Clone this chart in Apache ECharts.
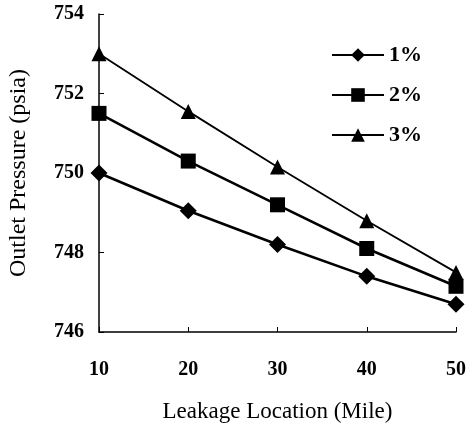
<!DOCTYPE html>
<html>
    <head>
        <title>Outlet pressure vs leakage location</title>
        <meta charset="UTF-8">
        <script src="https://cdn.jsdelivr.net/npm/echarts@6/dist/echarts.min.js"></script>
        <style>
            body { margin: 0; background-color: #fff; }
            #main { width: 470px; height: 436px; }
        </style>
    </head>
    <body>
        <div id="main"></div>
        <script>
            // values
            var locations = [10, 20, 30, 40, 50];
            var leak1 = [750.0, 749.05, 748.2, 747.4, 746.7];
            var leak2 = [751.5, 750.3, 749.2, 748.1, 747.15];
            var leak3 = [753.0, 751.55, 750.15, 748.8, 747.5];
            var names = ['1%', '2%', '3%'];

            function pairs(vals) {
                return locations.map(function (x, i) { return [x, vals[i]]; });
            }

            var font = '"Liberation Serif", "Times New Roman", serif';
            var chart = echarts.init(document.getElementById('main'));

            var option = {
                animation: false,
                textStyle: { fontFamily: font, color: '#000' },
                grid: { left: 99, right: 14, top: 14, bottom: 104, containLabel: false, outerBoundsMode: 'none' },
                legend: {
                    orient: 'vertical',
                    left: 326,
                    top: 39,
                    itemWidth: 52,
                    itemHeight: 17,
                    itemGap: 18,
                    data: names,
                    textStyle: { fontFamily: font, fontSize: 22, fontWeight: 'bold', color: '#000', padding: [8, 0, 0, 0] }
                },
                xAxis: {
                    type: 'value',
                    min: 10,
                    max: 50,
                    interval: 10,
                    name: 'Leakage Location (Mile)',
                    nameLocation: 'middle',
                    nameGap: 68,
                    nameTextStyle: { fontFamily: font, fontSize: 23, color: '#000' },
                    axisLine: { lineStyle: { color: '#000', width: 1.5 } },
                    axisTick: { inside: true, length: 5, lineStyle: { color: '#000' } },
                    axisLabel: { margin: 28, fontSize: 20, fontWeight: 'bold', color: '#000', fontFamily: font },
                    splitLine: { show: false }
                },
                yAxis: {
                    type: 'value',
                    min: 746,
                    max: 754,
                    interval: 2,
                    name: 'Outlet Pressure (psia)',
                    nameLocation: 'middle',
                    nameGap: 68,
                    nameTextStyle: { fontFamily: font, fontSize: 24, color: '#000' },
                    axisLine: { show: true, lineStyle: { color: '#000', width: 1.5 } },
                    axisTick: { show: true, inside: true, length: 5, lineStyle: { color: '#000' } },
                    axisLabel: { margin: 15, fontSize: 20, fontWeight: 'bold', color: '#000', fontFamily: font },
                    splitLine: { show: false }
                },
                series: [
                    {
                        name: names[0], type: 'line', data: pairs(leak1),
                        symbol: 'diamond', symbolSize: 17,
                        lineStyle: { color: '#000', width: 2.6 },
                        itemStyle: { color: '#000' }
                    },
                    {
                        name: names[1], type: 'line', data: pairs(leak2),
                        symbol: 'rect', symbolSize: 15,
                        lineStyle: { color: '#000', width: 2.6 },
                        itemStyle: { color: '#000' }
                    },
                    {
                        name: names[2], type: 'line', data: pairs(leak3),
                        symbol: 'triangle', symbolSize: 15,
                        lineStyle: { color: '#000', width: 1.8 },
                        itemStyle: { color: '#000' }
                    }
                ]
            };
            chart.setOption(option);
        </script>
    </body>
</html>
